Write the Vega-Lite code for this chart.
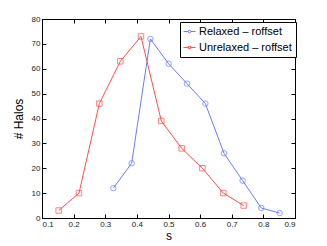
{
  "$schema": "https://vega.github.io/schema/vega-lite/v6.json",
  "width": 253,
  "height": 199,
  "autosize": {"type": "none"},
  "padding": {"left": 42, "top": 19, "right": 32, "bottom": 28},
  "background": "white",
  "config": {
    "font": "Liberation Sans",
    "view": {"stroke": "black", "strokeWidth": 1},
    "axis": {
      "grid": false,
      "domainColor": "black",
      "tickColor": "black",
      "labelColor": "#222",
      "labelFontSize": 8,
      "titleFontSize": 12,
      "titleFontWeight": "normal",
      "titleColor": "black",
      "tickSize": -4,
      "labelPadding": 6
    }
  },
  "data": {
    "values": [
      {"s": 0.3256, "halos": 12, "series": "Relaxed – roffset"},
      {"s": 0.3835, "halos": 22, "series": "Relaxed – roffset"},
      {"s": 0.4426, "halos": 72, "series": "Relaxed – roffset"},
      {"s": 0.5005, "halos": 62, "series": "Relaxed – roffset"},
      {"s": 0.5585, "halos": 54, "series": "Relaxed – roffset"},
      {"s": 0.6165, "halos": 46, "series": "Relaxed – roffset"},
      {"s": 0.6755, "halos": 26, "series": "Relaxed – roffset"},
      {"s": 0.7345, "halos": 15, "series": "Relaxed – roffset"},
      {"s": 0.7935, "halos": 4, "series": "Relaxed – roffset"},
      {"s": 0.8515, "halos": 2, "series": "Relaxed – roffset"},
      {"s": 0.1527, "halos": 3, "series": "Unrelaxed – roffset"},
      {"s": 0.217, "halos": 10, "series": "Unrelaxed – roffset"},
      {"s": 0.2813, "halos": 46, "series": "Unrelaxed – roffset"},
      {"s": 0.3477, "halos": 63, "series": "Unrelaxed – roffset"},
      {"s": 0.413, "halos": 73, "series": "Unrelaxed – roffset"},
      {"s": 0.4773, "halos": 39, "series": "Unrelaxed – roffset"},
      {"s": 0.5416, "halos": 28, "series": "Unrelaxed – roffset"},
      {"s": 0.607, "halos": 20, "series": "Unrelaxed – roffset"},
      {"s": 0.6734, "halos": 10, "series": "Unrelaxed – roffset"},
      {"s": 0.7377, "halos": 5, "series": "Unrelaxed – roffset"}
    ]
  },
  "layer": [
    {
      "mark": {"type": "line", "strokeWidth": 1},
      "encoding": {
        "x": {"field": "s", "type": "quantitative", "scale": {"domain": [0.1, 0.9], "nice": false}, "axis": {"values": [0.1,0.2,0.3,0.4,0.5,0.6,0.7,0.8,0.9], "format": ".1f", "title": "s", "titlePadding": 2}},
        "y": {"field": "halos", "type": "quantitative", "scale": {"domain": [0, 80], "nice": false}, "axis": {"values": [0,10,20,30,40,50,60,70,80], "format": "d", "title": "# Halos", "titlePadding": 6}},
        "color": {"field": "series", "type": "nominal", "scale": {"domain": ["Relaxed – roffset", "Unrelaxed – roffset"], "range": ["#6a7cff", "#ff4f4f"]}, "legend": {
          "title": null,
          "orient": "none",
          "legendX": 138,
          "legendY": 3,
          "strokeColor": "black",
          "fillColor": "white",
          "padding": 4,
          "labelFontSize": 11,
          "labelColor": "black",
          "symbolSize": 64,
          "symbolStrokeWidth": 1,
          "symbolFillColor": "transparent",
          "rowPadding": 4,
          "encode": {"symbols": {"update": {"shape": {"signal": "datum.value === 'Relaxed – roffset' ? 'M-1.5,0H-0.35M0.35,0H1.5M-0.35,0A0.35,0.35 0 1,0 0.35,0A0.35,0.35 0 1,0 -0.35,0' : 'M-1.5,0H-0.3M0.3,0H1.5M-0.3,-0.3H0.3V0.3H-0.3Z'"}}}}
        }}
      }
    },
    {
      "transform": [{"filter": "datum.series === 'Relaxed – roffset'"}],
      "mark": {"type": "point", "filled": false, "strokeWidth": 1, "shape": "circle", "size": 30},
      "encoding": {
        "x": {"field": "s", "type": "quantitative", "axis": null},
        "y": {"field": "halos", "type": "quantitative", "axis": null},
        "color": {"field": "series", "type": "nominal"}
      }
    },
    {
      "transform": [{"filter": "datum.series === 'Unrelaxed – roffset'"}],
      "mark": {"type": "point", "filled": false, "strokeWidth": 1, "shape": "square", "size": 30},
      "encoding": {
        "x": {"field": "s", "type": "quantitative", "axis": null},
        "y": {"field": "halos", "type": "quantitative", "axis": null},
        "color": {"field": "series", "type": "nominal"}
      }
    },
    {
      "mark": {"type": "point", "opacity": 0},
      "encoding": {
        "x": {"field": "s", "type": "quantitative", "axis": {"orient": "top", "values": [0.1,0.2,0.3,0.4,0.5,0.6,0.7,0.8,0.9], "labels": false, "title": null}},
        "y": {"field": "halos", "type": "quantitative", "axis": {"orient": "right", "values": [0,10,20,30,40,50,60,70,80], "labels": false, "title": null}}
      }
    }
  ],
  "resolve": {"axis": {"x": "independent", "y": "independent"}}
}
